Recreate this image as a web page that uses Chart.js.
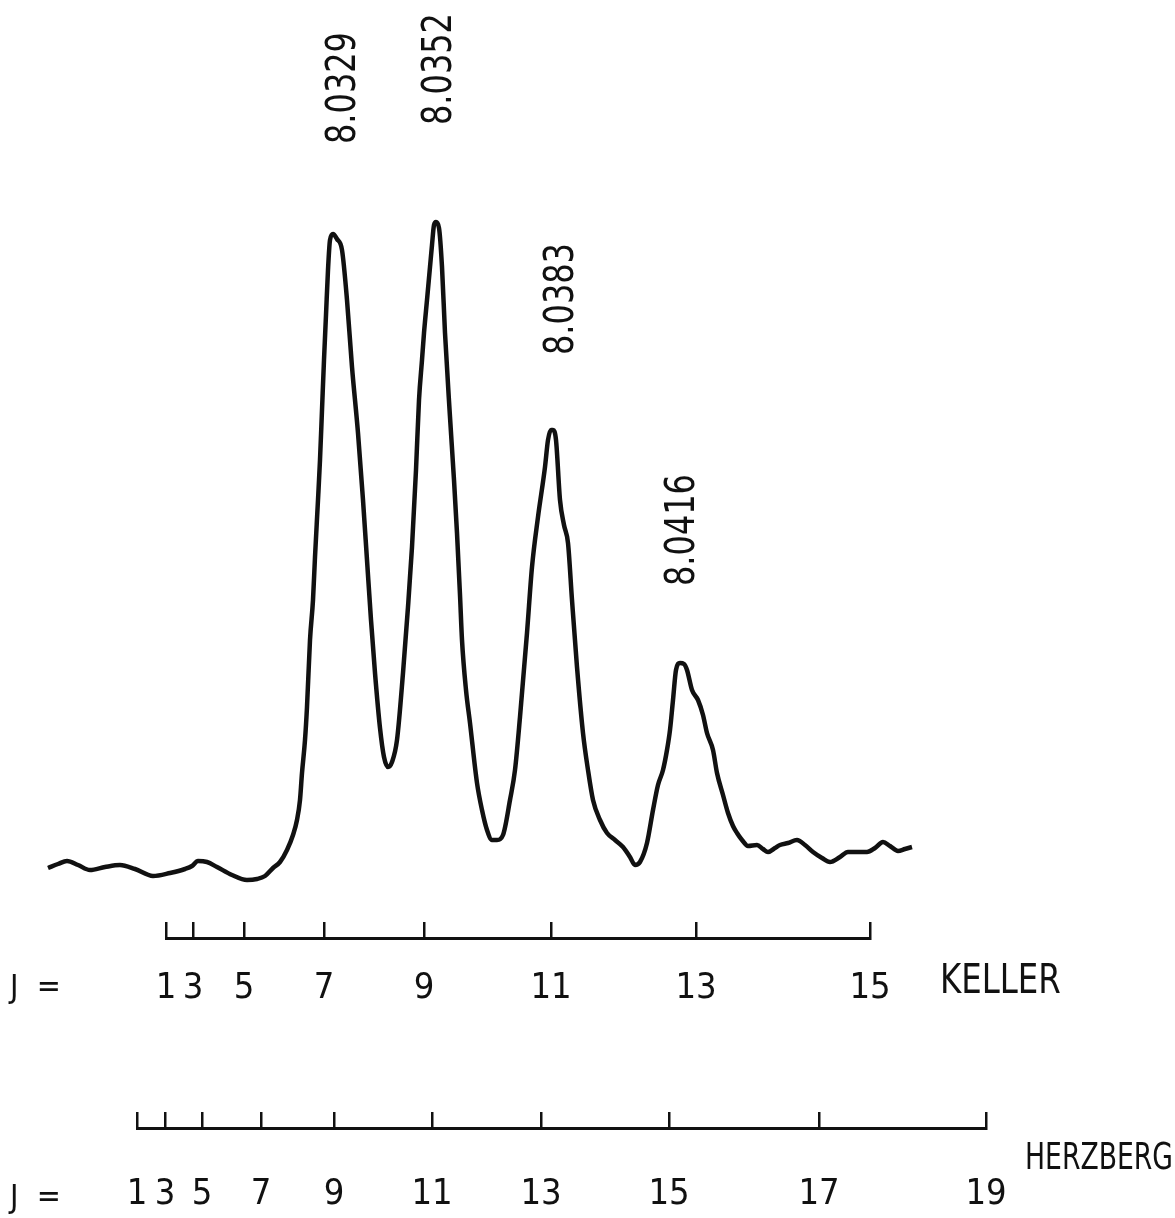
<!DOCTYPE html>
<html lang="en">
<head>
<meta charset="UTF-8" />
<title>Spectrum</title>
<script src="https://cdn.jsdelivr.net/npm/chart.js"></script>
<style>
  body { margin: 0; background: #fff; }
  #page { position: relative; width: 1175px; height: 1218px; overflow: hidden; }
  .box { position: absolute; left: 0; width: 1175px; }
  .lbl {
    position: absolute;
    font-family: 'DejaVu Sans Condensed', 'DejaVu Sans', sans-serif;
    color: #111;
    line-height: 1;
    white-space: nowrap;
    transform-origin: left center;
  }
</style>
</head>
<body>
<div id="page">
  <div class="box" style="top:0;height:900px"><canvas id="spec"></canvas></div>
  <div class="box" style="top:900px;height:103px"><canvas id="keller"></canvas></div>
  <div class="box" style="top:1090px;height:123px"><canvas id="herz"></canvas></div>
  <div class="lbl" style="left:10px;top:986px;font-size:32px;transform:translateY(-50%)">J&nbsp;&nbsp;=</div>
  <div class="lbl" style="left:940px;top:979px;font-size:40px;transform:translateY(-50%) scaleX(0.9)">KELLER</div>
  <div class="lbl" style="left:10px;top:1196px;font-size:32px;transform:translateY(-50%)">J&nbsp;&nbsp;=</div>
  <div class="lbl" style="left:1025px;top:1156px;font-size:38px;transform:translateY(-50%) scaleX(0.78)">HERZBERG</div>
</div>
<script>
// trace position along the chart (arbitrary units) and detector signal
const tracePos = [48, 58, 67, 78, 90, 105, 120, 135, 153, 170, 185, 192, 198, 207, 217, 232, 247, 257, 265, 273,
  280, 287, 293, 297, 300, 302, 305, 307, 310, 313, 315, 318, 320, 322, 324, 326, 328, 330, 333, 337,
  342, 347, 352, 358, 363, 367, 371, 375, 380, 384, 388, 392, 397, 403, 408, 412, 416, 419, 422, 424,
  427, 430, 432, 434, 436, 439, 442, 445, 450, 454, 457, 460, 462, 466, 470, 477, 482, 487, 492, 497,
  503, 510, 515, 520, 527, 532, 538, 545, 548, 551, 553, 556, 560, 564, 568, 572, 577, 583, 588, 593,
  600, 607, 615, 623, 630, 635, 640, 647, 653, 658, 663, 667, 670, 673, 676, 680, 684, 687, 692, 698,
  703, 707, 713, 717, 723, 728, 733, 737, 742, 748, 757, 763, 768, 775, 780, 788, 797, 805, 813, 822,
  830, 840, 848, 858, 867, 875, 883, 890, 898, 905, 912];
const traceSignal = [32, 36, 39, 35, 30, 33, 35, 31, 24, 27, 31, 34, 39, 38, 33, 25, 20, 21, 24, 32,
  38, 50, 65, 80, 100, 127, 160, 193, 260, 300, 343, 400, 440, 490, 540, 585, 630, 660, 666, 661,
  650, 600, 533, 467, 400, 340, 280, 227, 172, 143, 133, 138, 160, 227, 293, 353, 430, 500, 540, 567,
  600, 633, 655, 675, 678, 672, 633, 567, 483, 420, 367, 305, 260, 210, 177, 117, 90, 70, 60, 60,
  65, 100, 130, 183, 267, 333, 383, 433, 460, 470, 470, 460, 400, 375, 357, 300, 233, 167, 130, 100,
  80, 67, 60, 53, 43, 35, 38, 57, 90, 115, 130, 150, 170, 200, 230, 237, 236, 230, 210, 200,
  185, 167, 150, 127, 105, 87, 74, 67, 60, 54, 55, 51, 48, 52, 55, 57, 60, 55, 48, 42,
  38, 43, 48, 48, 48, 52, 58, 54, 49, 51, 53];

// labelled lines: trace position of the peak and wavelength label
const peakPos = [333, 436, 551, 680];
const peakLabels = ['8.0329', '8.0352', '8.0383', '8.0416'];

// J scales
const kellerJ = [1, 3, 5, 7, 9, 11, 13, 15];
const kellerPos = [166, 193, 244, 324, 424, 551, 696, 870];
const herzJ = [1, 3, 5, 7, 9, 11, 13, 15, 17, 19];
const herzPos = [137, 165, 202, 261, 334, 432, 541, 669, 819, 986];

const INK = '#111';
const W = 1175;

const peakLabelPlugin = {
  id: 'peakLabels',
  afterDatasetsDraw(chart, args, opts) {
    const { ctx, scales: { x, y } } = chart;
    ctx.save();
    ctx.fillStyle = INK;
    ctx.font = opts.font;
    peakPos.forEach((p, i) => {
      const k = tracePos.indexOf(p);
      const px = x.getPixelForValue(p) + opts.dx[i];
      const py = y.getPixelForValue(traceSignal[k]) - opts.gap[i];
      ctx.save();
      ctx.translate(px, py);
      ctx.rotate(-Math.PI / 2);
      ctx.scale(opts.squeeze, 1);
      ctx.textAlign = 'left';
      ctx.textBaseline = 'middle';
      ctx.fillText(peakLabels[i], 0, 0);
      ctx.restore();
    });
    ctx.restore();
  }
};

new Chart(document.getElementById('spec'), {
  type: 'line',
  data: {
    datasets: [{
      data: tracePos.map((p, i) => ({ x: p, y: traceSignal[i] })),
      borderColor: INK,
      borderWidth: 4.5,
      pointRadius: 0,
      cubicInterpolationMode: 'monotone',
      fill: false
    }]
  },
  options: {
    responsive: true,
    maintainAspectRatio: false,
    animation: false,
    layout: { padding: 0 },
    scales: {
      x: { type: 'linear', min: 0, max: W, display: false },
      y: { min: 0, max: 900, display: false }
    },
    plugins: {
      legend: { display: false },
      tooltip: { enabled: false },
      peakLabels: { font: '40px "DejaVu Sans"', squeeze: 0.8, dx: [12, 5, 12, 4], gap: [90, 97, 75, 77] }
    }
  },
  plugins: [peakLabelPlugin]
});

// a ruler: top axis carries the baseline and upward tick marks, bottom axis the J numbers
function ruler(id, pos, jv) {
  const lo = pos[0], hi = pos[pos.length - 1];
  const setTicks = ax => { ax.ticks = pos.map(v => ({ value: v })); };
  return new Chart(document.getElementById(id), {
    type: 'line',
    data: { datasets: [] },
    options: {
      responsive: true,
      maintainAspectRatio: false,
      animation: false,
      layout: { padding: { left: lo, right: W - hi, top: 22, bottom: 0 } },
      scales: {
        x: {
          type: 'linear', position: 'top', min: lo, max: hi,
          afterBuildTicks: setTicks,
          grid: { drawOnChartArea: false, drawTicks: true, tickLength: 16, color: INK, lineWidth: 2.5 },
          border: { display: true, color: INK, width: 3 },
          ticks: { display: false }
        },
        j: {
          type: 'linear', position: 'bottom', min: lo, max: hi,
          afterBuildTicks: setTicks,
          grid: { display: false },
          border: { display: false },
          ticks: {
            autoSkip: false,
            maxRotation: 0,
            padding: 0,
            color: INK,
            font: { family: '"DejaVu Sans Condensed", "DejaVu Sans"', size: 36, lineHeight: 1 },
            callback: (v, i) => jv[i]
          }
        },
        y: { display: false, min: 0, max: 1 }
      },
      plugins: { legend: { display: false }, tooltip: { enabled: false } }
    }
  });
}
ruler('keller', kellerPos, kellerJ);
ruler('herz', herzPos, herzJ);
</script>
</body>
</html>
